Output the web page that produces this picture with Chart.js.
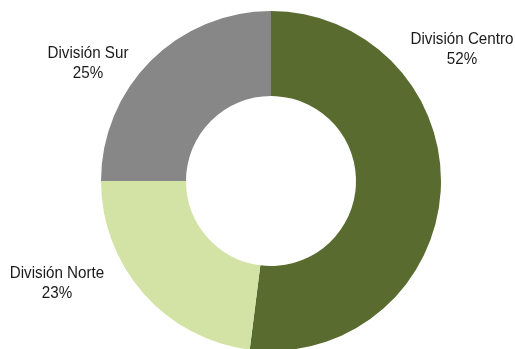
<!DOCTYPE html>
<html>
<head>
<meta charset="utf-8">
<script src="https://cdn.jsdelivr.net/npm/chart.js@4.4.1/dist/chart.umd.min.js"></script>
<style>
  html, body { margin: 0; padding: 0; background: #fff; overflow: hidden; }
  #wrap { position: relative; width: 515px; height: 362px; }
</style>
</head>
<body>
<div id="wrap"><canvas id="divChart"></canvas></div>
<script>
// Participación por división
const divisiones = ['División Centro', 'División Norte', 'División Sur'];
const porcentajes = [52, 23, 25];
const colores = ['#596b2f', '#d3e3a6', '#878787'];

// posición de cada etiqueta (x centro, línea base de la primera línea)
const etiquetaPos = [[462, 44], [57, 278], [88, 58]];

// etiquetas con texto algo condensado
const etiquetas = {
    id: 'etiquetas',
    afterDraw(chart) {
        const ctx = chart.ctx;
        const sx = 0.92;
        ctx.save();
        ctx.fillStyle = '#1a1a1a';
        ctx.font = '16.5px "Liberation Sans", Arial, sans-serif';
        ctx.textAlign = 'center';
        ctx.textBaseline = 'alphabetic';
        chart.data.labels.forEach((lab, i) => {
            const [x, y] = etiquetaPos[i];
            ctx.save();
            ctx.translate(x, y);
            ctx.scale(sx, 1);
            ctx.fillText(lab, 0, 0);
            ctx.fillText(chart.data.datasets[0].data[i] + '%', 0, 20);
            ctx.restore();
        });
        ctx.restore();
    }
};

const ctx = document.getElementById('divChart').getContext('2d');
new Chart(ctx, {
    type: 'doughnut',
    data: {
        labels: divisiones,
        datasets: [{
            data: porcentajes,
            backgroundColor: colores,
            borderWidth: 0
        }]
    },
    options: {
        responsive: true,
        maintainAspectRatio: false,
        animation: false,
        radius: 170,
        cutout: '50%',
        layout: { padding: { left: 27 } },
        plugins: {
            legend: { display: false },
            tooltip: { enabled: false }
        }
    },
    plugins: [etiquetas]
});
</script>
</body>
</html>
